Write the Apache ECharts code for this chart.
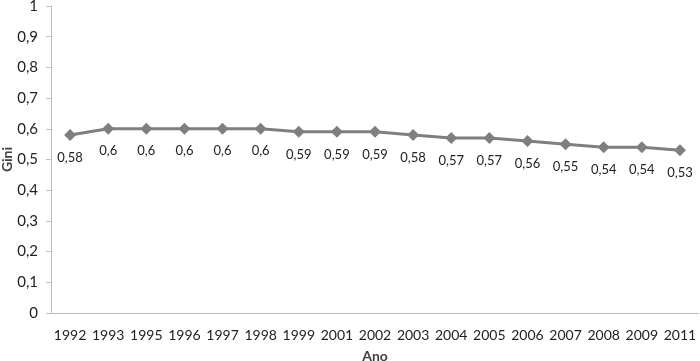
<!DOCTYPE html>
<html>
<head>
<meta charset="utf-8">
<script src="https://cdn.jsdelivr.net/npm/echarts@6/dist/echarts.min.js"></script>
<style>
  html, body { margin: 0; padding: 0; background: #fff; }
  #chart { width: 700px; height: 361px; }
</style>
</head>
<body>
<div id="chart"></div>
<script>
const years = ["1992", "1993", "1995", "1996", "1997", "1998", "1999", "2001", "2002",
               "2003", "2004", "2005", "2006", "2007", "2008", "2009", "2011"];
const gini = [0.58, 0.6, 0.6, 0.6, 0.6, 0.6, 0.59, 0.59, 0.59,
              0.58, 0.57, 0.57, 0.56, 0.55, 0.54, 0.54, 0.53];

const fmt = v => String(Math.round(v * 10) / 10).replace(".", ",");
const font = "Lato, 'Open Sans', sans-serif";

const chart = echarts.init(document.getElementById("chart"));
chart.setOption({
  animation: false,
  textStyle: { fontFamily: font },
  grid: { left: 51, right: 1, top: 6, bottom: 48, outerBoundsMode: "none", containLabel: false },
  xAxis: {
    type: "category",
    data: years,
    name: "Ano",
    nameLocation: "middle",
    nameGap: 36,
    nameMoveOverlap: false,
    nameTextStyle: { fontWeight: "bold", fontSize: 14, color: "#404040" },
    axisLine: { lineStyle: { color: "#bfbfbf" } },
    axisTick: { length: 6, lineStyle: { color: "#bfbfbf" } },
    axisLabel: { color: "#222", fontSize: 14, margin: 15, interval: 0 },
  },
  yAxis: {
    type: "value",
    min: 0,
    max: 1,
    interval: 0.1,
    name: "Gini",
    nameLocation: "middle",
    nameGap: 37,
    nameMoveOverlap: false,
    nameTextStyle: { fontWeight: "bold", fontSize: 14, color: "#404040" },
    axisLine: { show: true, lineStyle: { color: "#bfbfbf" } },
    axisTick: { show: true, length: 5, lineStyle: { color: "#bfbfbf" } },
    splitLine: { show: false },
    axisLabel: { color: "#222", fontSize: 15, margin: 13, formatter: fmt },
  },
  series: [{
    type: "line",
    data: gini,
    symbol: "diamond",
    symbolSize: 12,
    lineStyle: { color: "#7f7f7f", width: 3 },
    itemStyle: { color: "#7f7f7f" },
    label: {
      show: true,
      position: "bottom",
      distance: 10,
      fontSize: 13,
      color: "#222",
      formatter: p => String(p.value).replace(".", ","),
    },
  }],
});
</script>
</body>
</html>
